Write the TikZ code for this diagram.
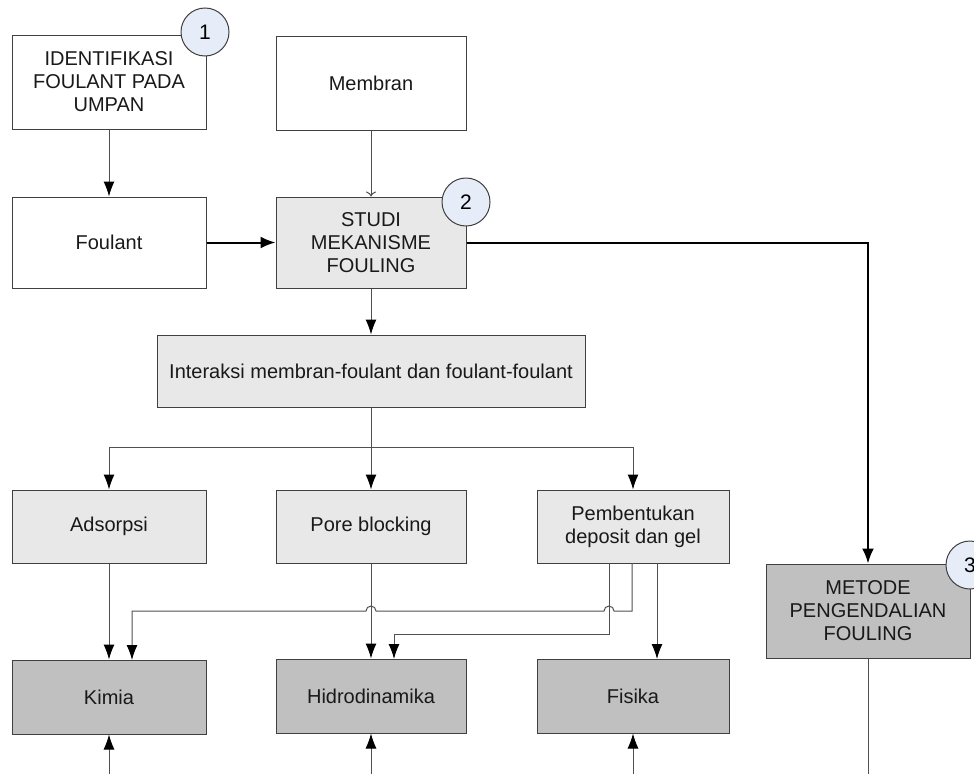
\documentclass[tikz,border=0pt]{standalone}
\usepackage{fontspec}
\setmainfont{Liberation Sans}
\usetikzlibrary{arrows.meta}
\definecolor{lightfill}{HTML}{E8E8E8}
\definecolor{darkfill}{HTML}{C0C0C0}
\definecolor{circfill}{HTML}{E6ECF8}
\definecolor{edge}{HTML}{404040}
\definecolor{conn}{HTML}{505050}
\tikzset{
  box/.style={draw=edge, line width=1pt, fill=white, align=center, inner sep=0pt,
    font=\fontsize{20}{23}\selectfont, text=black!90},
  lbox/.style={box, fill=lightfill},
  dbox/.style={box, fill=darkfill},
  numcirc/.style={circle, draw=edge, line width=1pt, fill=circfill, minimum size=48pt,
    inner sep=0pt, font=\fontsize{21}{21}\selectfont},
  conn/.style={draw=conn, line width=1pt, -{Latex[length=15pt,width=11pt,color=black]}},
  plain/.style={draw=conn, line width=1pt},
  thick conn/.style={draw=black, line width=2pt, -{Latex[length=15pt,width=12pt,color=black]}},
  open conn/.style={draw=conn, line width=1pt, -{To[length=5pt,width=10pt]}}
}
\begin{document}
\begin{tikzpicture}[x=1pt,y=-1pt]
\useasboundingbox (0,0) rectangle (974,774);
% row 1
\node[box, minimum width=194pt, minimum height=94pt] (ident) at (109,82) {IDENTIFIKASI\\FOULANT PADA\\UMPAN};
\node[box, minimum width=190pt, minimum height=94pt] (membran) at (371,83) {Membran};
% row 2
\node[box, minimum width=194pt, minimum height=91pt] (foulant) at (109,242.5) {Foulant};
\node[lbox, minimum width=190pt, minimum height=91pt] (studi) at (371,242.5) {STUDI\\MEKANISME\\FOULING};
% interaksi
\node[lbox, minimum width=428pt, minimum height=72pt] (inter) at (371,371) {Interaksi membran-foulant dan foulant-foulant};
% row 3
\node[lbox, minimum width=194pt, minimum height=73pt] (ads) at (109,526.5) {Adsorpsi};
\node[lbox, minimum width=190pt, minimum height=73pt] (pore) at (371,526.5) {Pore blocking};
\node[lbox, minimum width=192pt, minimum height=73pt] (pemb) at (633,526.5) {Pembentukan\\deposit dan gel};
% row 4
\node[dbox, minimum width=194pt, minimum height=74pt] (kimia) at (109,697) {Kimia};
\node[dbox, minimum width=190pt, minimum height=74pt] (hidro) at (371,696) {Hidrodinamika};
\node[dbox, minimum width=192pt, minimum height=74pt] (fisika) at (633,696) {Fisika};
% metode
\node[dbox, minimum width=204pt, minimum height=94pt] (metode) at (868,611) {METODE\\PENGENDALIAN\\FOULING};
% circles
\node[numcirc] (c1) at (205,32) {1};
\node[numcirc] (c2) at (466,202) {2};
\node[numcirc] (c3) at (970,565) {3};
% coordinates
\coordinate (b1) at (109,774);
\coordinate (b2) at (371,774);
\coordinate (b3) at (633,774);
\coordinate (b4) at (868,774);
% connectors
\draw[conn] (ident.south) -- (foulant.north);
\draw[open conn] (membran.south) -- (studi.north);
\draw[thick conn] (foulant.east) -- (studi.west);
\draw[thick conn] (studi.east) -| (metode.north);
\draw[conn] (studi.south) -- (inter.north);
\draw[plain] (inter.south) -- (371,447);
\draw[conn] (371,447) -| (ads.north);
\draw[conn] (371,447) -- (pore.north);
\draw[conn] (371,447) -| (pemb.north);
\draw[conn] (ads.south) -- (kimia.north -| ads.south);
\draw[conn] (pore.south) -- (hidro.north -| pore.south);
\draw[conn] (657,563) -- (657,659);
% jumping line from Pembentukan to Kimia
\draw[conn] (632,563) -- (632,611) -- (614,611) arc[start angle=0,end angle=-180,radius=5]
  -- (376,611) arc[start angle=0,end angle=-180,radius=5] -- (132,611) -- (132,660);
\draw[conn] (609,563) -- (609,634) -- (394,634) -- (394,659);
% bottom arrows
\draw[conn] (b1) -- (kimia.south);
\draw[conn] (b2) -- (hidro.south);
\draw[conn] (b3) -- (fisika.south);
\draw[plain] (metode.south) -- (b4);
\end{tikzpicture}
\end{document}
